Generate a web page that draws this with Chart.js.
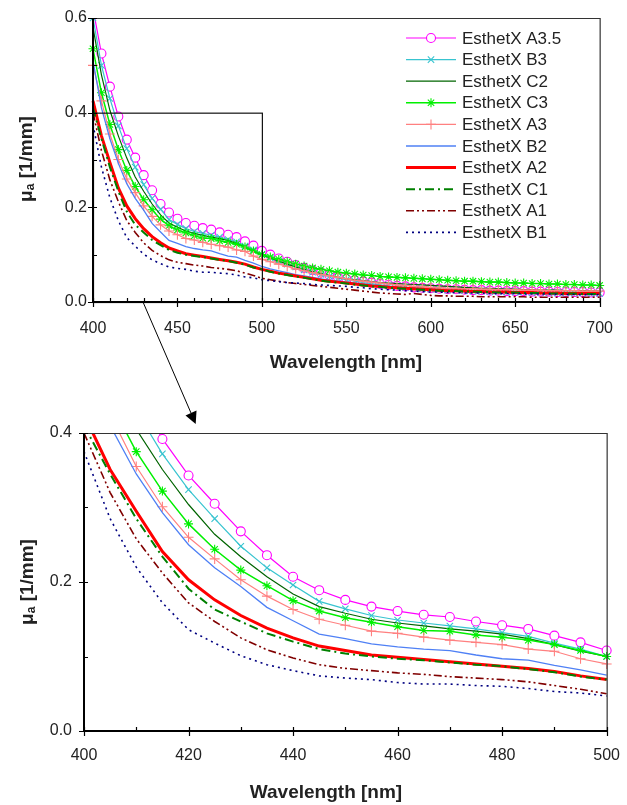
<!DOCTYPE html>
<html><head><meta charset="utf-8">
<script src="https://cdn.jsdelivr.net/npm/chart.js@4.4.1/dist/chart.umd.min.js"></script>
<style>
html,body{margin:0;padding:0;background:#fff;}
#wrap{position:relative;width:627px;height:805px;overflow:hidden;background:#fff;}
canvas{position:absolute;left:0;}
#c1{top:0;width:630px;height:390px;}
#c2{top:400px;width:635px;height:405px;}
svg{position:absolute;left:0;top:0;pointer-events:none;}
</style></head><body>
<div id="wrap">
<canvas id="c1" width="630" height="390"></canvas>
<canvas id="c2" width="635" height="405"></canvas>
<svg width="627" height="805"><line x1="143" y1="302" x2="191" y2="413" stroke="#000" stroke-width="1"/><polygon points="196.5,410.6 185.5,415.4 195.7,424" fill="#000"/></svg>
</div>
<script>
const wavelengths = [400,405,410,415,420,425,430,435,440,445,450,455,460,465,470,475,480,485,490,495,500,505,510,515,520,525,530,535,540,545,550,555,560,565,570,575,580,585,590,595,600,605,610,615,620,625,630,635,640,645,650,655,660,665,670,675,680,685,690,695,700];
const seriesNames = ["EsthetX A3.5","EsthetX B3","EsthetX C2","EsthetX C3","EsthetX A3","EsthetX B2","EsthetX A2","EsthetX C1","EsthetX A1","EsthetX B1"];
const A3_5 = [0.620,0.525,0.455,0.392,0.343,0.305,0.268,0.236,0.207,0.189,0.176,0.167,0.161,0.156,0.153,0.147,0.142,0.137,0.128,0.119,0.108, 0.100,0.092,0.085,0.078,0.072,0.067,0.062,0.057,0.053,0.049, 0.046,0.043,0.041,0.038,0.036,0.034,0.033,0.031,0.030,0.029, 0.028,0.027,0.027,0.026,0.025,0.025,0.024,0.024,0.023,0.023, 0.023,0.022,0.022,0.022,0.021,0.021,0.021,0.021,0.020,0.020];
const B3 = [0.600,0.500,0.430,0.372,0.324,0.285,0.248,0.219,0.196,0.174,0.164,0.155,0.149,0.145,0.141,0.137,0.132,0.127,0.118,0.110,0.100, 0.093,0.086,0.080,0.074,0.068,0.063,0.058,0.054,0.050,0.047, 0.044,0.041,0.039,0.036,0.034,0.032,0.031,0.029,0.028,0.027, 0.026,0.025,0.025,0.024,0.023,0.023,0.022,0.022,0.021,0.021, 0.021,0.020,0.020,0.020,0.019,0.019,0.019,0.019,0.018,0.018];
const C2 = [0.580,0.480,0.405,0.351,0.304,0.264,0.234,0.207,0.184,0.167,0.158,0.150,0.145,0.141,0.137,0.134,0.130,0.124,0.116,0.107,0.100, 0.093,0.086,0.080,0.074,0.069,0.064,0.060,0.056,0.052,0.049, 0.047,0.045,0.043,0.041,0.040,0.039,0.038,0.037,0.036,0.035, 0.034,0.033,0.032,0.031,0.030,0.029,0.029,0.028,0.027,0.027, 0.026,0.026,0.025,0.025,0.025,0.024,0.024,0.024,0.023,0.023];
const C3 = [0.535,0.442,0.375,0.322,0.278,0.244,0.216,0.195,0.175,0.161,0.152,0.146,0.140,0.135,0.134,0.129,0.126,0.122,0.116,0.108,0.100, 0.095,0.090,0.085,0.080,0.076,0.072,0.069,0.066,0.063,0.061, 0.059,0.057,0.056,0.054,0.053,0.052,0.051,0.050,0.049,0.048, 0.047,0.046,0.045,0.044,0.044,0.043,0.042,0.042,0.041,0.040, 0.040,0.039,0.039,0.038,0.038,0.037,0.037,0.036,0.036,0.035];
const A3 = [0.500,0.425,0.355,0.301,0.260,0.231,0.203,0.181,0.163,0.150,0.142,0.134,0.131,0.126,0.122,0.119,0.116,0.110,0.107,0.097,0.090, 0.085,0.080,0.075,0.070,0.066,0.062,0.058,0.055,0.052,0.049, 0.046,0.044,0.042,0.040,0.038,0.036,0.035,0.033,0.032,0.031, 0.030,0.029,0.029,0.028,0.028,0.027,0.027,0.026,0.026,0.026, 0.025,0.025,0.025,0.024,0.024,0.024,0.024,0.023,0.023,0.023];
const B2 = [0.510,0.410,0.345,0.293,0.250,0.219,0.194,0.166,0.148,0.130,0.124,0.117,0.113,0.110,0.108,0.102,0.097,0.095,0.088,0.082,0.075, 0.070,0.066,0.062,0.058,0.055,0.052,0.049,0.046,0.044,0.042, 0.040,0.038,0.036,0.034,0.033,0.031,0.030,0.029,0.028,0.027, 0.026,0.025,0.024,0.024,0.023,0.023,0.022,0.022,0.021,0.021, 0.021,0.020,0.020,0.020,0.019,0.019,0.019,0.019,0.018,0.018];
const A2 = [0.425,0.351,0.295,0.241,0.203,0.176,0.155,0.138,0.125,0.114,0.108,0.102,0.099,0.096,0.093,0.090,0.087,0.084,0.080,0.074,0.069, 0.065,0.061,0.058,0.055,0.052,0.049,0.046,0.044,0.042,0.040, 0.038,0.036,0.034,0.033,0.031,0.030,0.029,0.028,0.027,0.026, 0.025,0.024,0.024,0.023,0.022,0.022,0.021,0.021,0.021,0.020, 0.020,0.020,0.019,0.019,0.019,0.018,0.018,0.018,0.018,0.018];
const C1 = [0.410,0.345,0.285,0.234,0.191,0.163,0.147,0.131,0.120,0.110,0.104,0.100,0.097,0.095,0.092,0.089,0.087,0.083,0.079,0.073,0.069, 0.064,0.060,0.057,0.054,0.051,0.048,0.045,0.043,0.041,0.039, 0.037,0.035,0.033,0.032,0.030,0.029,0.028,0.027,0.026,0.025, 0.024,0.023,0.023,0.022,0.022,0.021,0.021,0.020,0.020,0.020, 0.019,0.019,0.019,0.018,0.018,0.018,0.018,0.017,0.017,0.017];
const A1 = [0.400,0.320,0.258,0.212,0.172,0.147,0.125,0.109,0.098,0.089,0.084,0.081,0.078,0.076,0.073,0.071,0.069,0.066,0.061,0.056,0.050, 0.047,0.044,0.041,0.039,0.037,0.035,0.033,0.031,0.029,0.027, 0.025,0.023,0.021,0.019,0.018,0.017,0.016,0.018,0.016,0.014, 0.013,0.013,0.012,0.012,0.012,0.011,0.011,0.011,0.011,0.011, 0.011,0.010,0.010,0.010,0.010,0.010,0.010,0.010,0.010,0.010];
const B1 = [0.375,0.285,0.220,0.172,0.136,0.118,0.101,0.089,0.081,0.074,0.071,0.069,0.065,0.063,0.063,0.061,0.060,0.057,0.053,0.051,0.047, 0.045,0.043,0.041,0.040,0.039,0.037,0.036,0.035,0.034,0.033, 0.031,0.030,0.028,0.027,0.026,0.025,0.024,0.023,0.022,0.021, 0.021,0.020,0.020,0.019,0.019,0.019,0.018,0.018,0.018,0.018, 0.017,0.017,0.017,0.017,0.016,0.016,0.016,0.016,0.016,0.016];
const topXTicks = {min:400, max:700, step:50, minor:10};
const topYTicks = {min:0, max:0.6, step:0.2, minor:0.1};
const botXTicks = {min:400, max:500, step:20, minor:10};
const botYTicks = {min:0, max:0.4, step:0.2, minor:0.1};

const allSeries = [A3_5,B3,C2,C3,A3,B2,A2,C1,A1,B1];
const styles = [
  {color:'#FF00FF', width:1.2, dash:[], point:'circle', r:4.5, fill:'#FFFFFF'},
  {color:'#38C4D0', width:1.2, dash:[], point:'crossRot', r:4.5, fill:'#38C4D0'},
  {color:'#006400', width:1.2, dash:[], point:false, r:0},
  {color:'#00F000', width:1.5, dash:[], point:'star', r:4.5, fill:'#00F000'},
  {color:'#FF8080', width:1.2, dash:[], point:'cross', r:5, fill:'#FF8080'},
  {color:'#4F80F5', width:1.3, dash:[], point:false, r:0},
  {color:'#FF0000', width:3, dash:[], point:false, r:0},
  {color:'#008000', width:2, dash:[9,4,2,4], point:false, r:0},
  {color:'#800000', width:1.6, dash:[8,3,2,3,2,3], point:false, r:0},
  {color:'#000080', width:1.6, dash:[2,4], point:false, r:0}
];
const FONT = '"Liberation Sans", Arial, Helvetica, sans-serif';

function makeDatasets(xmax){
  return allSeries.map((arr,i)=>{
    const s = styles[i];
    const pts = [];
    wavelengths.forEach((w,j)=>{ if (w<=xmax) pts.push({x:w, y:arr[j]}); });
    return {
      label: seriesNames[i], data: pts, borderColor:s.color, borderWidth:s.width, borderDash:s.dash,
      pointStyle: s.point || 'circle', pointRadius: s.point? s.r:0, pointBorderColor:s.color,
      pointBackgroundColor: s.fill || s.color, pointBorderWidth:1.1, tension:0, fill:false,
      order:-i, clip:{left:6, top:0, right:6, bottom:6}
    };
  });
}

function drawMarker(ctx, style, x, y, r){
  ctx.save(); ctx.setLineDash([]); ctx.lineWidth=1.1; ctx.strokeStyle=style.color; ctx.fillStyle=style.fill||style.color;
  ctx.beginPath();
  if (style.point==='circle'){ ctx.arc(x,y,r,0,Math.PI*2); ctx.fill(); ctx.stroke(); }
  else {
    const d=r, e=r*0.7071;
    if (style.point==='cross'||style.point==='star'){ ctx.moveTo(x-d,y); ctx.lineTo(x+d,y); ctx.moveTo(x,y-d); ctx.lineTo(x,y+d); }
    if (style.point==='crossRot'||style.point==='star'){ ctx.moveTo(x-e,y-e); ctx.lineTo(x+e,y+e); ctx.moveTo(x-e,y+e); ctx.lineTo(x+e,y-e); }
    ctx.stroke();
  }
  ctx.restore();
}

function drawYTitle(ctx, cx, cy){
  ctx.save();
  ctx.translate(cx, cy); ctx.rotate(-Math.PI/2);
  ctx.fillStyle='#222'; ctx.textBaseline='middle'; ctx.textAlign='left';
  const fBig='bold 19px '+FONT, fSmall='bold 12px '+FONT;
  ctx.font=fBig; const w1=ctx.measureText('\u03bc').width; const w3=ctx.measureText(' [1/mm]').width;
  ctx.font=fSmall; const w2=ctx.measureText('a').width;
  let x0=-(w1+w2+w3)/2;
  ctx.font=fBig; ctx.fillText('\u03bc', x0, 0);
  ctx.font=fSmall; ctx.fillText('a', x0+w1, 4);
  ctx.font=fBig; ctx.fillText(' [1/mm]', x0+w1+w2, 0);
  ctx.restore();
}

const framePlugin = {
  id:'frame',
  afterDatasetsDraw(chart, args, o){
    const {ctx, chartArea:a} = chart; const x=chart.scales.x, y=chart.scales.y;
    ctx.save(); ctx.setLineDash([]);
    ctx.strokeStyle='#333'; ctx.lineWidth=1.2;
    ctx.beginPath(); ctx.moveTo(a.left, a.top+0.5); ctx.lineTo(a.right+0.5, a.top+0.5); ctx.lineTo(a.right+0.5, a.bottom); ctx.stroke();
    if (o.rect){
      ctx.strokeStyle='#111'; ctx.lineWidth=1.2;
      const rx1=x.getPixelForValue(o.rect[0]), rx2=x.getPixelForValue(o.rect[1]);
      const ry1=y.getPixelForValue(o.rect[2]), ry2=y.getPixelForValue(o.rect[3]);
      ctx.strokeRect(rx1+0.5, ry2+0.5, rx2-rx1, ry1-ry2);
    }
    ctx.strokeStyle='#000'; ctx.lineWidth=2;
    ctx.beginPath(); ctx.moveTo(a.left, a.top); ctx.lineTo(a.left, a.bottom); ctx.lineTo(a.right+1, a.bottom); ctx.stroke();
    ctx.lineWidth=1.2; ctx.strokeStyle='#000';
    const xt=o.xt, yt=o.yt;
    ctx.beginPath();
    for (let v=xt.min; v<=xt.max+1e-9; v+=xt.minor){
      const px=Math.round(x.getPixelForValue(v))+0.5;
      const major = Math.abs((v-xt.min)/xt.step - Math.round((v-xt.min)/xt.step))<1e-6;
      ctx.moveTo(px, a.bottom-4); ctx.lineTo(px, a.bottom + (major?5:0));
    }
    for (let k=0; k<=Math.round((yt.max-yt.min)/yt.minor); k++){
      const v=yt.min+k*yt.minor;
      const py=Math.round(y.getPixelForValue(v))+0.5;
      const major = k % Math.round(yt.step/yt.minor) === 0;
      ctx.moveTo(a.left-(major?5:0), py); ctx.lineTo(a.left+4, py);
    }
    ctx.stroke();
    if (o.legend){
      const L=o.legend;
      chart.data.datasets.forEach((ds,i)=>{
        const s=styles[i]; const ly=L.y0+i*L.dy;
        ctx.save(); ctx.strokeStyle=s.color; ctx.lineWidth=s.width; ctx.setLineDash(s.dash);
        ctx.beginPath(); ctx.moveTo(L.x0, ly); ctx.lineTo(L.x1, ly); ctx.stroke(); ctx.restore();
        if (s.point) drawMarker(ctx, s, (L.x0+L.x1)/2, ly, s.r);
        ctx.fillStyle='#222'; ctx.font='17px '+FONT; ctx.textBaseline='middle'; ctx.textAlign='left';
        ctx.fillText(ds.label, L.tx, ly+1);
      });
    }
    ctx.fillStyle='#222'; ctx.font='bold 19px '+FONT; ctx.textAlign='center'; ctx.textBaseline='alphabetic';
    ctx.fillText('Wavelength [nm]', o.xTitle[0], o.xTitle[1]);
    drawYTitle(ctx, o.yTitle[0], o.yTitle[1]);
    ctx.restore();
  }
};

function makeChart(id, xt, yt, pad, xh, yw, xpad, ypad, frameOpts){
  return new Chart(document.getElementById(id), {
    type:'line',
    data:{datasets: makeDatasets(xt.max)},
    options:{
      responsive:false, animation:false, devicePixelRatio:1,
      layout:{padding:pad},
      plugins:{legend:{display:false}, tooltip:{enabled:false}, title:{display:false}, frame:frameOpts},
      scales:{
        x:{type:'linear', min:xt.min, max:xt.max,
           ticks:{stepSize:xt.step, color:'#222', font:{family:FONT, size:16}, padding:xpad, maxRotation:0, autoSkip:false, callback:v=>String(v)},
           grid:{display:false, drawTicks:false}, border:{display:false}, afterFit(s){s.height=xh;}},
        y:{type:'linear', min:yt.min, max:yt.max,
           ticks:{stepSize:yt.step, color:'#222', font:{family:FONT, size:16}, padding:ypad, callback:v=>v.toFixed(1)},
           grid:{display:false, drawTicks:false}, border:{display:false}, afterFit(s){s.width=yw;}}
      }
    },
    plugins:[framePlugin]
  });
}

makeChart('c1', topXTicks, topYTicks, {top:18, right:0, left:0, bottom:0}, 88, 93, 17, 6, {
  xt:topXTicks, yt:topYTicks, rect:[400,500,0,0.4],
  legend:{x0:406, x1:456, tx:462, y0:38, dy:21.6},
  xTitle:[346, 368], yTitle:[27, 159]
});
makeChart('c2', botXTicks, botYTicks, {top:33, right:0, left:0, bottom:0}, 74, 84, 15, 12, {
  xt:botXTicks, yt:botYTicks, rect:null, legend:null,
  xTitle:[326, 398], yTitle:[28, 182]
});
</script>
</body></html>
